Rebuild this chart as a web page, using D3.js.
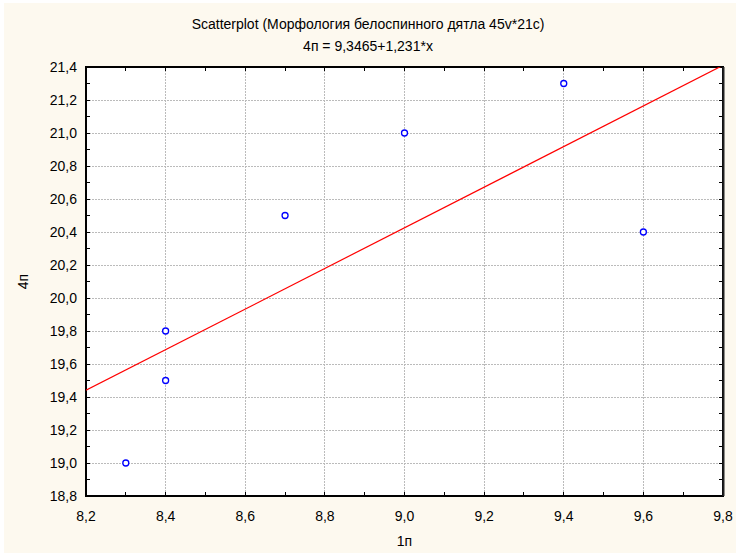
<!DOCTYPE html>
<html>
<head>
<meta charset="utf-8">
<title>scatterplot</title>
<script src="https://cdn.jsdelivr.net/npm/d3@7/dist/d3.min.js"></script>
<style>
  body { margin: 0; background: #fff; }
  text { font-family: "Liberation Sans", Arial, sans-serif; fill: #000; }
  .tick-label { font-size: 14px; }
  .title { font-size: 14px; }
</style>
</head>
<body>
<svg width="736" height="553"></svg>
<script>
// data
var xVals = [8.3, 8.4, 8.4, 8.7, 9.0, 9.4, 9.6];
var yVals = [19.0, 19.8, 19.5, 20.5, 21.0, 21.3, 20.4];
var fitCoef = [9.3465, 1.231];   // intercept, slope
var xTicks = [8.2, 8.4, 8.6, 8.8, 9.0, 9.2, 9.4, 9.6, 9.8];
var yTicks = [18.8, 19.0, 19.2, 19.4, 19.6, 19.8, 20.0, 20.2, 20.4, 20.6, 20.8, 21.0, 21.2, 21.4];
var titleLines = ["Scatterplot (Морфология белоспинного дятла 45v*21c)", "4п = 9,3465+1,231*x"];

var svg = d3.select("svg"),
    margin = {top: 67, right: 13, bottom: 57, left: 86},
    W = +svg.attr("width"), H = +svg.attr("height"),
    width = W - margin.left - margin.right,
    height = H - margin.top - margin.bottom;

var fmt = function(v) { return d3.format(".1f")(v).replace(".", ","); };

// background
svg.append("rect").attr("x", 4).attr("y", 3).attr("width", W - 4).attr("height", H - 3).attr("fill", "#fdf9ef");

var x = d3.scaleLinear().domain([8.2, 9.8]).range([0, width]);
var y = d3.scaleLinear().domain([18.8, 21.4]).range([height, 0]);

var g = svg.append("g").attr("transform", `translate(${margin.left},${margin.top})`);
g.append("rect").attr("width", width).attr("height", height).attr("fill", "#fff");

// grid
g.append("g").selectAll("line").data(xTicks.slice(1, -1)).enter().append("line")
  .attr("x1", d => x(d)).attr("x2", d => x(d)).attr("y1", 0).attr("y2", height)
  .attr("stroke", "#bbb").attr("stroke-dasharray", "2,1").attr("shape-rendering", "crispEdges");
g.append("g").selectAll("line").data(yTicks.slice(1, -1)).enter().append("line")
  .attr("y1", d => y(d)).attr("y2", d => y(d)).attr("x1", 0).attr("x2", width)
  .attr("stroke", "#bbb").attr("stroke-dasharray", "2,1").attr("shape-rendering", "crispEdges");

// minor ticks (midpoints) on all four sides
var xMinor = d3.pairs(xTicks).map(p => (p[0] + p[1]) / 2);
var yMinor = d3.pairs(yTicks).map(p => (p[0] + p[1]) / 2);
var tickG = g.append("g").attr("stroke", "#000").attr("shape-rendering", "crispEdges");
xTicks.concat(xMinor).forEach(function(d) {
  tickG.append("line").attr("x1", x(d)).attr("x2", x(d)).attr("y1", height).attr("y2", height - 4);
  tickG.append("line").attr("x1", x(d)).attr("x2", x(d)).attr("y1", 0).attr("y2", 4);
});
yTicks.concat(yMinor).forEach(function(d) {
  tickG.append("line").attr("y1", y(d)).attr("y2", y(d)).attr("x1", 0).attr("x2", 4);
  tickG.append("line").attr("y1", y(d)).attr("y2", y(d)).attr("x1", width).attr("x2", width - 4);
});

// frame
g.append("rect").attr("width", width).attr("height", height).attr("fill", "none")
  .attr("stroke", "#000").attr("stroke-width", 1.5).attr("shape-rendering", "crispEdges");
g.append("line").attr("x1", width + 0.5).attr("x2", width + 0.5).attr("y1", 0).attr("y2", height)
  .attr("stroke", "#222").attr("stroke-width", 2);

// tick labels
g.append("g").selectAll("text").data(xTicks).enter().append("text")
  .attr("class", "tick-label").attr("x", d => x(d)).attr("y", height + 25)
  .attr("text-anchor", "middle").text(fmt);
g.append("g").selectAll("text").data(yTicks).enter().append("text")
  .attr("class", "tick-label").attr("x", -9).attr("y", d => y(d) + 5)
  .attr("text-anchor", "end").text(fmt);

// regression line
var clip = g.append("clipPath").attr("id", "clip").append("rect").attr("width", width).attr("height", height);
var fitLine = d3.line().x(d => x(d)).y(d => y(fitCoef[0] + fitCoef[1] * d));
g.append("path").datum(x.domain()).attr("d", fitLine).attr("clip-path", "url(#clip)")
  .attr("fill", "none").attr("stroke", "#ff0000").attr("stroke-width", 1.2);

// points
g.append("g").selectAll("circle").data(xVals).enter().append("circle")
  .attr("cx", d => x(d)).attr("cy", (d, i) => y(yVals[i])).attr("r", 3)
  .attr("fill", "#fff").attr("stroke", "#0000ff").attr("stroke-width", 1.3);

// titles
svg.selectAll(".title").data(titleLines).enter().append("text").attr("class", "title")
  .attr("x", 368).attr("y", (d, i) => 29 + i * 22).attr("text-anchor", "middle").text(d => d);
svg.append("text").attr("class", "tick-label").attr("x", margin.left + width / 2).attr("y", 546)
  .attr("text-anchor", "middle").text("1п");
svg.append("text").attr("class", "tick-label")
  .attr("transform", `translate(28,${margin.top + height / 2}) rotate(-90)`)
  .attr("text-anchor", "middle").text("4п");
</script>
</body>
</html>
